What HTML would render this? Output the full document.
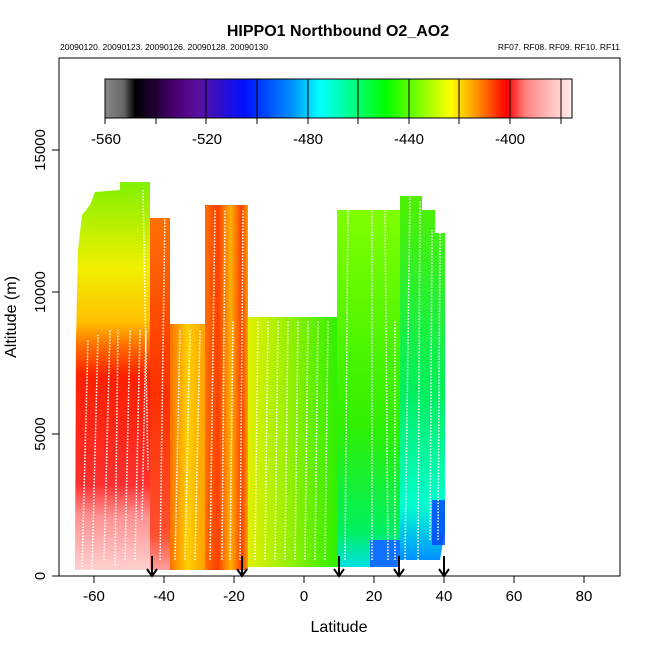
<!DOCTYPE html>
<html><head><meta charset="utf-8"><style>body{margin:0;background:#fff}svg{display:block}text{font-family:"Liberation Sans",sans-serif}</style></head>
<body>
<svg width="650" height="650" viewBox="0 0 650 650">
<defs>
<linearGradient id="cb" x1="0" x2="1">
<stop offset="0" stop-color="#888"/><stop offset="0.04" stop-color="#666"/><stop offset="0.065" stop-color="#000"/>
<stop offset="0.15" stop-color="#4a0070"/><stop offset="0.2" stop-color="#5a10a0"/><stop offset="0.3" stop-color="#0010ff"/>
<stop offset="0.4" stop-color="#0090ff"/><stop offset="0.46" stop-color="#00ffff"/><stop offset="0.52" stop-color="#00ff99"/>
<stop offset="0.6" stop-color="#00ff00"/><stop offset="0.7" stop-color="#b0ff00"/><stop offset="0.74" stop-color="#ffff00"/>
<stop offset="0.79" stop-color="#ffa000"/><stop offset="0.86" stop-color="#ff0000"/><stop offset="0.88" stop-color="#ff4040"/>
<stop offset="0.9" stop-color="#ff8080"/><stop offset="0.94" stop-color="#ffb0b0"/><stop offset="0.98" stop-color="#ffd8d8"/><stop offset="1" stop-color="#ffeeee"/>
</linearGradient>
<linearGradient id="gA" x1="0" y1="0" x2="0" y2="1">
<stop offset="0" stop-color="#80f000"/><stop offset="0.22" stop-color="#f0f000"/><stop offset="0.36" stop-color="#ffc000"/>
<stop offset="0.42" stop-color="#ff7000"/><stop offset="0.5" stop-color="#ff2000"/><stop offset="0.78" stop-color="#ff3030"/>
<stop offset="0.86" stop-color="#ff9090"/><stop offset="1" stop-color="#ffd0d0"/>
</linearGradient>
<linearGradient id="gB" x1="0" y1="0" x2="0" y2="1">
<stop offset="0" stop-color="#ff7000"/><stop offset="0.5" stop-color="#ff3000"/><stop offset="0.9" stop-color="#ff5030"/><stop offset="1" stop-color="#ffa0a0"/>
</linearGradient>
<linearGradient id="gB2" x1="0" y1="0" x2="1" y2="0">
<stop offset="0" stop-color="#ff7000"/><stop offset="0.5" stop-color="#ffd000"/><stop offset="1" stop-color="#ffa000"/>
</linearGradient>
<linearGradient id="gC" x1="0" y1="0" x2="1" y2="0">
<stop offset="0" stop-color="#ff7000"/><stop offset="0.3" stop-color="#ff4000"/><stop offset="0.6" stop-color="#ffb000"/><stop offset="0.85" stop-color="#ff4000"/><stop offset="1" stop-color="#ffa000"/>
</linearGradient>
<linearGradient id="gD" x1="0" y1="0" x2="1" y2="0">
<stop offset="0" stop-color="#e0f000"/><stop offset="0.4" stop-color="#a0f000"/><stop offset="1" stop-color="#30f000"/>
</linearGradient>
<linearGradient id="gE" x1="0" y1="0" x2="0" y2="1">
<stop offset="0" stop-color="#80ff00"/><stop offset="0.6" stop-color="#30f000"/><stop offset="0.9" stop-color="#00f060"/><stop offset="1" stop-color="#00e0e0"/>
</linearGradient>
<linearGradient id="gF" x1="0" y1="0" x2="0" y2="1">
<stop offset="0" stop-color="#50f000"/><stop offset="0.55" stop-color="#00f060"/><stop offset="0.85" stop-color="#00ffd0"/><stop offset="1" stop-color="#0090ff"/>
</linearGradient>
</defs>
<text x="338" y="36" font-size="16" font-weight="bold" text-anchor="middle">HIPPO1 Northbound O2_AO2</text>
<text x="60" y="50" font-size="8.5">20090120. 20090123. 20090126. 20090128. 20090130</text>
<text x="620" y="50" font-size="8.5" text-anchor="end">RF07. RF08. RF09. RF10. RF11</text>
<path d="M75,570 L76,340 L78,250 L82,215 L90,205 L95,192 L120,190 L120,182 L150,182 L150,570 Z" fill="url(#gA)"/>
<rect x="150" y="218" width="20" height="352" fill="url(#gB)"/>
<rect x="170" y="324" width="35" height="246" fill="url(#gB2)"/>
<rect x="205" y="205" width="43" height="365" fill="url(#gC)"/>
<rect x="248" y="317" width="89" height="250" fill="url(#gD)"/>
<rect x="337" y="210" width="63" height="357" fill="url(#gE)"/>
<rect x="370" y="540" width="30" height="27" fill="#1070ff"/>
<path d="M400,196 L422,196 L422,210 L435,210 L435,233 L445,233 L445,530 L440,560 L400,560 Z" fill="url(#gF)"/>
<rect x="432" y="500" width="13" height="45" fill="#0040ff" opacity="0.8"/>
<g stroke="#fff" stroke-width="1.5" stroke-dasharray="1.5,1.5" fill="none">
<path d="M82,570 L88,340 M92,570 L98,335 M104,560 L110,330 M115,565 L118,330 M125,560 L130,330 M135,560 L140,330 M142,520 L146,330 M143,190 L148,470"/>
<path d="M160,560 L165,210 M175,560 L180,330 M185,560 L190,330 M195,560 L200,330 M210,560 L215,210 M222,560 L225,210 M230,560 L233,320 M240,560 L243,210"/>
<path d="M255,560 L258,320 M265,560 L268,320 M275,560 L278,320 M285,560 L288,320 M295,560 L298,320 M305,560 L308,320 M315,560 L318,320 M325,560 L328,320"/>
<path d="M345,560 L348,210 M372,560 L372,210 M388,560 L385,210 M395,560 L395,320 M405,560 L410,196 M418,560 L420,200 M430,540 L432,230 M438,540 L440,230"/>
</g>
<g stroke="#000" stroke-width="2" fill="none">
<path d="M152,556 V576 M147,569 L152,576 L157,569"/>
<path d="M242,556 V576 M237,569 L242,576 L247,569"/>
<path d="M339,556 V576 M334,569 L339,576 L344,569"/>
<path d="M399,556 V576 M394,569 L399,576 L404,569"/>
<path d="M444,556 V576 M439,569 L444,576 L449,569"/>
</g>
<rect x="105" y="79" width="467" height="39" fill="url(#cb)" stroke="#000" stroke-width="1"/>
<g stroke="#000" stroke-width="1">
<path d="M105,118 H572"/>
<path d="M105,79 V124 M156,79 V124 M206,79 V124 M257,79 V124 M308,79 V124 M358,79 V124 M409,79 V124 M459,79 V124 M510,79 V124 M561,79 V124"/>
</g>
<g font-size="15" text-anchor="middle">
<text x="106" y="144">-560</text><text x="207" y="144">-520</text><text x="308" y="144">-480</text><text x="409" y="144">-440</text><text x="510" y="144">-400</text>
</g>
<rect x="59" y="58" width="561" height="518" fill="none" stroke="#000" stroke-width="1"/>
<g stroke="#000" stroke-width="1">
<path d="M52,576 H59 M52,434 H59 M52,292 H59 M52,150 H59"/>
<path d="M94,576 V583 M164,576 V583 M234,576 V583 M304,576 V583 M374,576 V583 M444,576 V583 M514,576 V583 M584,576 V583"/>
</g>
<g font-size="15" text-anchor="middle">
<text x="94" y="601">-60</text><text x="164" y="601">-40</text><text x="234" y="601">-20</text><text x="304" y="601">0</text>
<text x="374" y="601">20</text><text x="444" y="601">40</text><text x="514" y="601">60</text><text x="584" y="601">80</text>
</g>
<g font-size="15" text-anchor="middle">
<text transform="translate(45,576) rotate(-90)">0</text>
<text transform="translate(45,434) rotate(-90)">5000</text>
<text transform="translate(45,292) rotate(-90)">10000</text>
<text transform="translate(45,150) rotate(-90)">15000</text>
</g>
<text x="339" y="632" font-size="16" text-anchor="middle">Latitude</text>
<text transform="translate(16,317) rotate(-90)" font-size="16" text-anchor="middle">Altitude (m)</text>
</svg>
</body></html>
